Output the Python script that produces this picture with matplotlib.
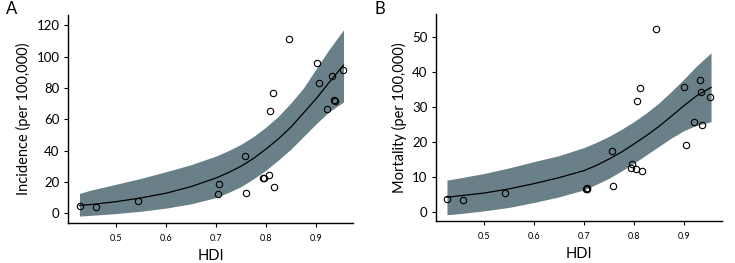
import matplotlib
matplotlib.use("Agg")
import matplotlib.pyplot as plt

# ---- Panel A: incidence ----
hdi_a = [0.427, 0.459, 0.543, 0.705, 0.706, 0.758, 0.759, 0.793, 0.795, 0.805, 0.807,
         0.813, 0.816, 0.845, 0.901, 0.906, 0.921, 0.931, 0.935, 0.938, 0.953]
inc_a = [4.9, 4.2, 8.1, 12.1, 18.7, 36.5, 13.2, 22.7, 22.7, 24.6, 65.4,
         76.5, 16.6, 111.5, 95.6, 82.8, 66.5, 87.4, 72.4, 71.8, 91.3]

fit_x_a = [0.427, 0.45, 0.5, 0.55, 0.6, 0.65, 0.7, 0.725, 0.75, 0.775, 0.8,
           0.825, 0.85, 0.875, 0.9, 0.925, 0.955]
fit_a = [5.0, 5.6, 7.4, 9.8, 12.8, 17.0, 22.5, 26.0, 30.0, 35.0, 41.0,
         47.5, 55.0, 64.0, 73.0, 83.0, 94.5]
upper_a = [12.7, 14.8, 18.5, 22.3, 26.5, 31.0, 36.5, 40.0, 44.0, 49.0, 55.0,
           62.0, 70.5, 80.0, 92.0, 104.0, 117.0]
lower_a = [-1.8, -1.3, -0.2, 1.3, 3.3, 6.0, 10.0, 13.3, 17.0, 22.0, 27.5,
           34.0, 41.0, 49.0, 57.0, 64.5, 71.0]

# ---- Panel B: mortality ----
hdi_b = [0.425, 0.457, 0.5415, 0.705, 0.706, 0.707, 0.757, 0.758, 0.794, 0.796, 0.805,
         0.807, 0.8126, 0.8166, 0.845, 0.9016, 0.9056, 0.9217, 0.933, 0.935, 0.9377, 0.9538]
mor_b = [3.6, 3.4, 5.3, 6.5, 6.5, 6.6, 17.4, 7.2, 12.6, 13.6, 12.3,
         31.5, 35.2, 11.5, 52.3, 35.5, 19.1, 25.7, 37.6, 34.2, 24.7, 32.7]

fit_x_b = [0.425, 0.45, 0.5, 0.55, 0.6, 0.65, 0.7, 0.725, 0.75, 0.775, 0.8,
           0.825, 0.85, 0.875, 0.9, 0.925, 0.955]
fit_b = [4.1, 4.5, 5.3, 6.5, 8.0, 9.7, 11.7, 13.2, 15.0, 17.0, 19.3,
         21.7, 24.3, 27.2, 30.2, 33.0, 35.5]
upper_b = [9.0, 9.6, 10.9, 12.5, 14.3, 16.0, 18.3, 19.8, 21.5, 23.5, 25.7,
           28.2, 31.0, 34.3, 37.8, 41.5, 45.4]
lower_b = [-0.9, -0.6, 0.2, 1.2, 2.6, 4.2, 6.2, 7.8, 9.5, 11.6, 13.8,
           16.2, 18.6, 21.0, 23.1, 24.6, 25.7]

x_ticks = [0.5, 0.6, 0.7, 0.8, 0.9]
y_ticks_a = [0, 20, 40, 60, 80, 100, 120]
y_ticks_b = [0, 10, 20, 30, 40, 50]

plt.rcParams['font.family'] = ['Lato', 'DejaVu Sans']

band_color = '#6a8088'

fig = plt.figure(figsize=(7.35, 2.63), dpi=100)
ax_a = fig.add_axes([68/735, 1-223/263, 285/735, 208/263])
ax_b = fig.add_axes([436/735, 1-221/263, 286/735, 207/263])

def style(ax, xlim, ylim, yticks, ylabel):
    ax.set_xlim(*xlim)
    ax.set_ylim(*ylim)
    ax.set_xticks(x_ticks)
    ax.set_xticklabels([f"{t:.1f}" for t in x_ticks], fontsize=6.5)
    ax.set_yticks(yticks)
    ax.set_yticklabels([str(t) for t in yticks], fontsize=9.5)
    ax.spines['top'].set_visible(False)
    ax.spines['right'].set_visible(False)
    for s in ('left', 'bottom'):
        ax.spines[s].set_linewidth(1.0)
    ax.tick_params(axis='both', direction='out', length=3, width=0.8)
    ax.tick_params(axis='x', pad=5)
    ax.tick_params(axis='y', pad=3)
    ax.set_xlabel('HDI', fontsize=10.5, labelpad=4)
    ax.set_ylabel(ylabel, fontsize=10.5, labelpad=4)

# Panel A
ax_a.fill_between(fit_x_a, lower_a, upper_a, color=band_color, linewidth=0, zorder=1)
ax_a.plot(fit_x_a, fit_a, color='black', linewidth=0.9, zorder=2)
ax_a.plot(hdi_a, inc_a, linestyle='none', marker='o', markersize=4.6,
          markerfacecolor='none', markeredgecolor='black', markeredgewidth=0.8, zorder=3)
style(ax_a, (0.404, 0.974), (-6.2, 126.5), y_ticks_a, 'Incidence (per 100,000)')

# Panel B
ax_b.fill_between(fit_x_b, lower_b, upper_b, color=band_color, linewidth=0, zorder=1)
ax_b.plot(fit_x_b, fit_b, color='black', linewidth=0.9, zorder=2)
ax_b.plot(hdi_b, mor_b, linestyle='none', marker='o', markersize=4.6,
          markerfacecolor='none', markeredgecolor='black', markeredgewidth=0.8, zorder=3)
style(ax_b, (0.403, 0.977), (-2.7, 56.5), y_ticks_b, 'Mortality (per 100,000)')

fig.text(6/735, 1-9/263, 'A', fontsize=12, va='center', ha='left')
fig.text(374/735, 1-9/263, 'B', fontsize=12, va='center', ha='left')

fig.savefig('out.png', dpi=100)
